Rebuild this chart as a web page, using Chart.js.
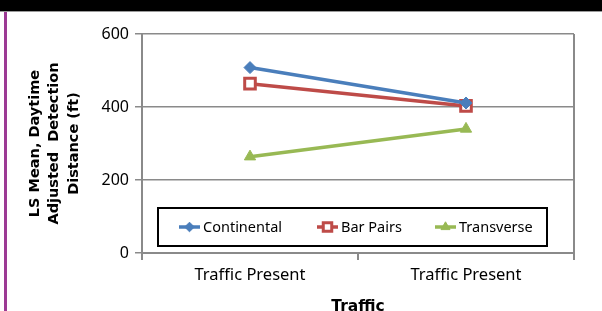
<!DOCTYPE html>
<html>
<head>
<meta charset="utf-8">
<script src="https://cdn.jsdelivr.net/npm/chart.js@4.4.1/dist/chart.umd.min.js"></script>
<style>
  html, body { margin: 0; padding: 0; background: #fff; }
  #wrap { position: relative; width: 602px; height: 311px; overflow: hidden; }
  #topBar { position: absolute; left: 0; top: 0; width: 602px; height: 11px; background: #000; border-bottom: 1px solid #9a9a9a; }
  #sideLine { position: absolute; left: 4px; top: 12px; width: 3px; bottom: 0; background: #9c3a94; }
  #chart { position: absolute; left: 0; top: 0; }
</style>
</head>
<body>
<div id="wrap">
  <canvas id="chart" width="602" height="311"></canvas>
  <div id="topBar"></div>
  <div id="sideLine"></div>
</div>
<script>
const categories = ["Traffic Present", "Traffic Present"];
const continental = [508, 411];
const barPairs = [464, 403];
const transverse = [264, 340];
const yTicks = [0, 200, 400, 600];

document.addEventListener("DOMContentLoaded", () => {
    const gridColor = "#8a8a8a";

    // legend drawn inside the plot, like the original
    const insideLegend = {
        id: "insideLegend",
        afterDatasetsDraw(chart) {
            const ctx = chart.ctx;
            const box = { x: 158, y: 208, w: 389, h: 38 };
            ctx.save();
            ctx.fillStyle = "#fff";
            ctx.fillRect(box.x, box.y, box.w, box.h);
            ctx.strokeStyle = "#000";
            ctx.lineWidth = 2;
            ctx.strokeRect(box.x, box.y, box.w, box.h);

            const starts = [179, 317, 435];
            const cy = box.y + box.h / 2;
            chart.data.datasets.forEach((ds, i) => {
                const x0 = starts[i];
                ctx.strokeStyle = ds.borderColor;
                ctx.lineWidth = 3.5;
                ctx.beginPath();
                ctx.moveTo(x0, cy);
                ctx.lineTo(x0 + 21, cy);
                ctx.stroke();

                ctx.fillStyle = ds.pointBackgroundColor;
                ctx.strokeStyle = ds.borderColor;
                ctx.lineWidth = ds.pointBorderWidth;
                Chart.helpers.drawPoint(ctx, {
                    pointStyle: ds.pointStyle,
                    radius: ds.pointRadius * 0.8,
                    rotation: 0,
                    borderWidth: ds.pointBorderWidth
                }, x0 + 10.5, cy);

                ctx.fillStyle = "#000";
                ctx.font = "14.5px 'Noto Sans'";
                ctx.textBaseline = "middle";
                ctx.fillText(ds.label, x0 + 24, cy + 1);
            });
            ctx.restore();
        }
    };

    // right edge of plot frame
    const frame = {
        id: "frame",
        beforeDatasetsDraw(chart) {
            const a = chart.chartArea;
            const ctx = chart.ctx;
            ctx.save();
            ctx.strokeStyle = gridColor;
            ctx.lineWidth = 2;
            ctx.beginPath();
            ctx.moveTo(a.right, a.top);
            ctx.lineTo(a.right, a.bottom);
            ctx.stroke();
            ctx.restore();
        }
    };

    new Chart(document.getElementById("chart").getContext("2d"), {
        type: "line",
        data: {
            labels: categories,
            datasets: [
                {
                    label: "Continental",
                    data: continental,
                    borderColor: "#4a7ebb",
                    backgroundColor: "#4a7ebb",
                    pointBackgroundColor: "#4a7ebb",
                    pointStyle: "rectRot",
                    pointRadius: 6,
                    pointBorderWidth: 1
                },
                {
                    label: "Bar Pairs",
                    data: barPairs,
                    borderColor: "#be4b48",
                    backgroundColor: "#ffffff",
                    pointBackgroundColor: "#ffffff",
                    pointStyle: "rect",
                    pointRadius: 7.5,
                    pointBorderWidth: 3
                },
                {
                    label: "Transverse",
                    data: transverse,
                    borderColor: "#98b954",
                    backgroundColor: "#98b954",
                    pointBackgroundColor: "#98b954",
                    pointStyle: "triangle",
                    pointRadius: 6.5,
                    pointBorderWidth: 1
                }
            ].map(d => Object.assign(d, { borderWidth: 3.5, fill: false, tension: 0 }))
        },
        options: {
            responsive: false,
            animation: false,
            layout: { padding: { top: 34, left: 0, right: 28, bottom: 0 } },
            plugins: {
                legend: { display: false },
                tooltip: { enabled: false }
            },
            scales: {
                x: {
                    offset: true,
                    grid: {
                        offset: true,
                        drawOnChartArea: false,
                        drawTicks: true,
                        tickLength: 7,
                        color: gridColor,
                        lineWidth: 2
                    },
                    border: { color: gridColor, width: 2 },
                    ticks: { color: "#000", font: { family: "Noto Sans", size: 16.5 }, padding: 5, maxRotation: 0 },
                    title: {
                        display: true,
                        text: "Traffic",
                        color: "#000",
                        font: { family: "DejaVu Sans", size: 15.5, weight: "bold", lineHeight: 1 },
                        padding: { top: 0, bottom: -4 }
                    },
                    afterFit(scale) { scale.height = 58; }
                },
                y: {
                    min: 0,
                    max: 600,
                    afterBuildTicks(scale) { scale.ticks = yTicks.map(v => ({ value: v })); },
                    grid: {
                        color: gridColor,
                        lineWidth: 1.5,
                        drawTicks: true,
                        tickLength: 7
                    },
                    border: { color: gridColor, width: 2 },
                    ticks: { color: "#000", font: { family: "Noto Sans", size: 16 }, padding: 6 },
                    title: {
                        display: true,
                        text: ["LS Mean, Daytime", "Adjusted  Detection", "Distance (ft)"],
                        color: "#000",
                        font: { family: "DejaVu Sans", size: 14.5, weight: "bold", lineHeight: 1.35 },
                        padding: { top: 25, bottom: 0 }
                    },
                    afterFit(scale) { scale.width = 142; }
                }
            }
        },
        plugins: [frame, insideLegend]
    });
});
</script>
</body>
</html>
